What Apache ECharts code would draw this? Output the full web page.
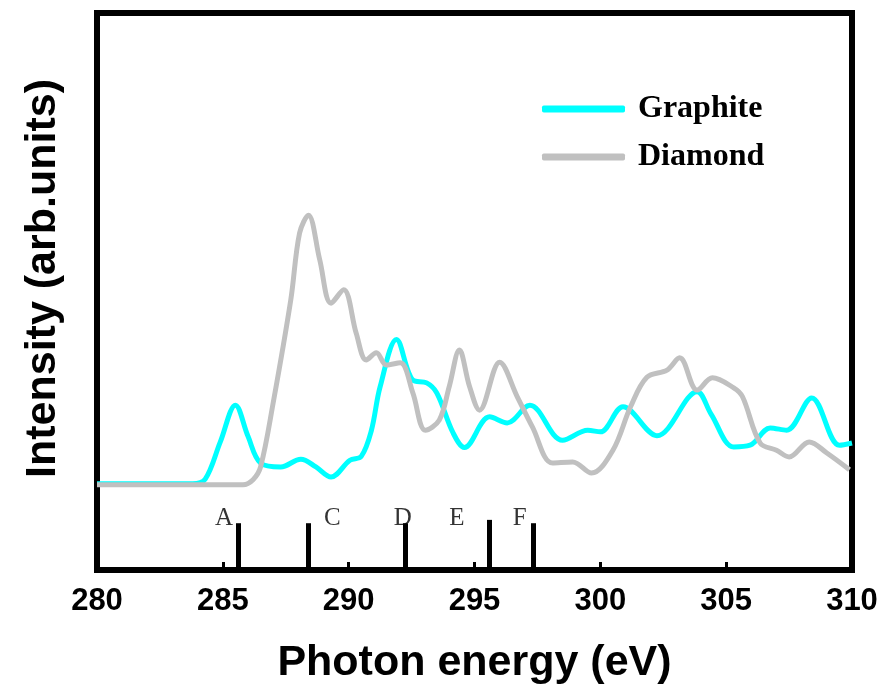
<!DOCTYPE html>
<html>
<head>
<meta charset="utf-8">
<script src="https://cdn.jsdelivr.net/npm/echarts@6/dist/echarts.min.js"></script>
<style>
  html, body { margin: 0; padding: 0; background: #fff; }
  #chart { width: 885px; height: 687px; }
</style>
</head>
<body>
<div id="chart"></div>
<script>
// 石墨 (energy eV, intensity)
var graphite = [
  [280, 15.5], [283.8, 15.5], [284.3, 16.3], [284.9, 23], [285.5, 29.6], [286.0, 24],
  [286.5, 19.2], [287.3, 18.5], [288.1, 19.9], [288.7, 18.5], [289.3, 16.7], [290.05, 19.7],
  [290.5, 20.4], [290.9, 25], [291.25, 32.9], [291.9, 41.4], [292.55, 34.1], [293.1, 33.6],
  [293.5, 31.8], [294.15, 24.6], [294.6, 22], [295.6, 27.5], [296.3, 26.4], [297.2, 29.6],
  [298.5, 23.3], [299.5, 25.1], [300, 24.8], [300.9, 29.3], [302.25, 24.1], [303.85, 32],
  [304.4, 28], [305.3, 22.1], [305.95, 22.4], [306.75, 25.5], [307.4, 25.1], [308.4, 30.9],
  [309.5, 22.4], [310, 22.8]
];
// 金刚石
var diamond = [
  [280, 15.3], [285.8, 15.3], [286.2, 16.2], [286.5, 18.5], [287.0, 30], [287.7, 48.5],
  [288.05, 60.5], [288.4, 63.7], [288.85, 55.7], [289.3, 47.9], [289.8, 50.3], [290.3, 42.5],
  [290.7, 37.7], [291.1, 39], [291.5, 36.8], [292.05, 37.2], [292.55, 31.8], [293.05, 25.1],
  [293.6, 26.9], [294.0, 33], [294.4, 39.5], [294.8, 33], [295.2, 28.7], [296.0, 37.3],
  [296.7, 31.1], [297.3, 25.7], [298.1, 19.2], [298.9, 19.4], [299.65, 17.4], [300.5, 21.5],
  [301.2, 29.3], [301.85, 34.6], [302.65, 35.9], [303.15, 38.1], [303.85, 32.3], [304.45, 34.5],
  [305.3, 32.7], [305.65, 31.1], [306.35, 22.8], [307.0, 21.5], [307.5, 20.3], [308.3, 23],
  [309.0, 21], [309.9, 18]
];
// 峰位标记
var peakNames = ["A", "C", "D", "E", "F"];
var peakEnergy = [285.6, 288.4, 292.25, 295.6, 297.35];
var peakHeight = [8.4, 8.4, 8.4, 9, 8.4];
var labelEnergy = [285.05, 289.35, 292.15, 294.3, 296.8];
var labelLevel = 9.3;
var xTicks = [280, 285, 290, 295, 300, 305, 310];

var chart = echarts.init(document.getElementById("chart"));

var markData = peakEnergy.map(function (e, i) {
  return [{ coord: [e, 0] }, { coord: [e, peakHeight[i]] }];
});
var letterData = peakNames.map(function (n, i) {
  return { name: n, value: [labelEnergy[i], labelLevel] };
});

var option = {
  backgroundColor: "#fff",
  animation: false,
  grid: {
    left: 97,
    right: 33,
    top: 13,
    bottom: 117,
    outerBoundsMode: "none",
    show: true,
    borderColor: "#000",
    borderWidth: 6,
  },
  legend: {
    orient: "vertical",
    left: 537,
    top: 88,
    itemWidth: 83,
    itemHeight: 7,
    itemGap: 16,
    icon: "roundRect",
    data: ["Graphite", "Diamond"],
    textStyle: {
      fontFamily: "Liberation Serif",
      fontWeight: "bold",
      fontSize: 32,
      color: "#000",
      padding: [0, 0, 0, 8],
    },
  },
  xAxis: {
    type: "value",
    min: xTicks[0],
    max: xTicks[xTicks.length - 1],
    interval: 5,
    name: "Photon energy (eV)",
    nameLocation: "middle",
    nameGap: 72,
    nameTextStyle: {
      fontFamily: "Liberation Sans",
      fontWeight: "bold",
      fontSize: 43,
      color: "#000",
    },
    axisLine: { show: false },
    axisTick: { show: true, inside: true, length: 8, lineStyle: { color: "#000", width: 3 } },
    minorTick: { show: true, splitNumber: 2, length: 3, lineStyle: { color: "#000", width: 3 } },
    axisLabel: {
      margin: 16,
      fontFamily: "Liberation Sans",
      fontWeight: "bold",
      fontSize: 31,
      color: "#000",
    },
    splitLine: { show: false },
  },
  yAxis: {
    type: "value",
    min: 0,
    max: 100,
    name: "Intensity (arb.units)",
    nameLocation: "middle",
    nameGap: 32,
    nameRotate: 90,
    nameTextStyle: {
      fontFamily: "Liberation Sans",
      fontWeight: "bold",
      fontSize: 43,
      color: "#000",
      padding: [0, 0, 0, 26],
    },
    axisLine: { show: false },
    axisTick: { show: false },
    axisLabel: { show: false },
    splitLine: { show: false },
  },
  series: [
    {
      name: "Graphite",
      type: "line",
      data: graphite,
      smooth: 0.35,
      showSymbol: false,
      lineStyle: { color: "#00FFFF", width: 5 },
      itemStyle: { color: "#00FFFF" },
      z: 2,
    },
    {
      name: "Diamond",
      type: "line",
      data: diamond,
      smooth: 0.35,
      showSymbol: false,
      lineStyle: { color: "#C0C0C0", width: 5 },
      itemStyle: { color: "#C0C0C0" },
      z: 3,
    },
    {
      name: "peaks",
      type: "scatter",
      data: letterData,
      symbolSize: 0,
      label: {
        show: true,
        position: "inside",
        formatter: "{b}",
        fontFamily: "Liberation Serif",
        fontSize: 25,
        color: "#000",
      },
      markLine: {
        silent: true,
        symbol: "none",
        label: { show: false },
        lineStyle: { color: "#000", width: 5, type: "solid" },
        data: markData,
      },
      z: 4,
    },
  ],
};
chart.setOption(option);
window.addEventListener("resize", function () {
  chart.resize();
});
</script>
</body>
</html>
